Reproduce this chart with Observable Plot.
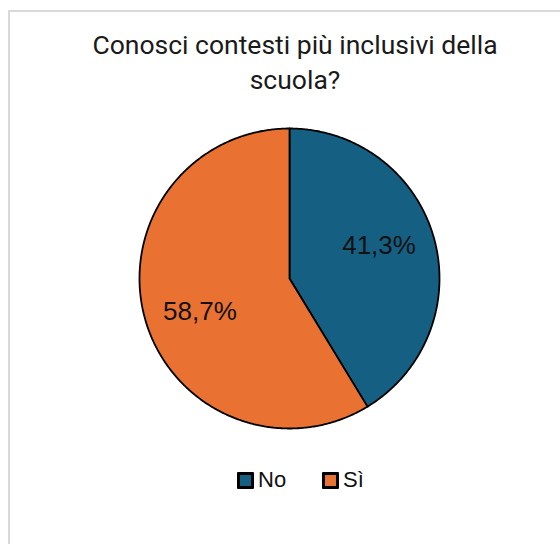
<!DOCTYPE html>
<html>
<head>
<meta charset="utf-8">
<script src="https://cdn.jsdelivr.net/npm/d3@7"></script>
<script src="https://cdn.jsdelivr.net/npm/@observablehq/plot@0.6"></script>
<style>
  html, body { margin: 0; padding: 0; background: #fff; width: 560px; height: 544px; overflow: hidden; }
  #frame { position: absolute; left: 8px; top: 10px; width: 600px; height: 600px; border-left: 2px solid #d9d9d9; border-top: 2px solid #d9d9d9; }
  #title { position: absolute; left: 75px; width: 440px; top: 27px; text-align: center; font-family: Roboto, sans-serif; font-size: 26.5px; line-height: 35px; color: #1a1a1a; }
  #chart { position: absolute; left: 136px; top: 124.5px; }
  #legend { position: absolute; top: 467px; left: 0; width: 560px; font-family: "Liberation Sans", Arial, sans-serif; font-size: 22px; color: #111; }
  .item { position: absolute; top: 0; display: flex; align-items: center; }
  .sw { width: 11px; height: 11px; border: 3px solid #000; border-radius: 1px; margin-right: 4px; }
</style>
</head>
<body>
<div id="frame"></div>
<div id="title">Conosci contesti più inclusivi della<br>scuola?</div>
<div id="chart"></div>
<div id="legend"></div>
<script>
const categories = ["No", "Sì"];
const values = [41.3, 58.7];
const labels = ["41,3%", "58,7%"];
const colors = ["#156082", "#E97132"];

const data = categories.map((c, i) => ({cat: c, value: values[i], label: labels[i]}));
const arcs = d3.pie().sort(null).value(d => d.value)(data);

// outline points of each slice (center + arc, 0.5° steps)
const pts = [];
for (const a of arcs) {
  pts.push({cat: a.data.cat, x: 0, y: 0});
  const n = Math.ceil((a.endAngle - a.startAngle) / (Math.PI / 360));
  for (let k = 0; k <= n; k++) {
    const t = a.startAngle + (a.endAngle - a.startAngle) * k / n;
    pts.push({cat: a.data.cat, x: Math.sin(t), y: Math.cos(t)});
  }
  pts.push({cat: a.data.cat, x: 0, y: 0});
}
const lab = arcs.map(a => {
  const m = (a.startAngle + a.endAngle) / 2;
  return {x: 0.62 * Math.sin(m), y: 0.82 * Math.cos(m), text: a.data.label};
});

const plot = Plot.plot({
  width: 306, height: 306, margin: 3,
  x: {domain: [-1, 1], axis: null},
  y: {domain: [-1, 1], axis: null},
  color: {domain: categories, range: colors},
  marks: [
    Plot.line(pts, {x: "x", y: "y", z: "cat", fill: "cat", stroke: "#000", strokeWidth: 1.8, strokeLinejoin: "round", curve: "linear"}),
    Plot.text(lab, {x: "x", y: "y", text: "text", fontSize: 26, fontFamily: "Liberation Sans, Arial, sans-serif", fill: "#111"})
  ]
});
document.getElementById("chart").appendChild(plot);

const legend = document.getElementById("legend");
const lx = [237, 322];
categories.forEach((c, i) => {
  const it = document.createElement("div");
  it.className = "item";
  it.style.left = lx[i] + "px";
  const sw = document.createElement("div");
  sw.className = "sw";
  sw.style.background = colors[i];
  const tx = document.createElement("span");
  tx.textContent = c;
  it.appendChild(sw); it.appendChild(tx);
  legend.appendChild(it);
});
</script>
</body>
</html>
